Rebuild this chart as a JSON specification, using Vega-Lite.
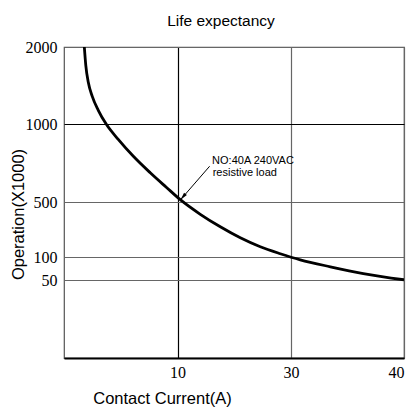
{
  "$schema": "https://vega.github.io/schema/vega-lite/v6.json",
  "width": 340,
  "height": 311,
  "autosize": {"type": "none"},
  "padding": {"left": 64, "top": 47, "right": 4, "bottom": 51},
  "background": "white",
  "config": {
    "view": {"stroke": "#555", "strokeWidth": 1.2},
    "axis": {"labelColor": "#000", "titleColor": "#000", "titleFontWeight": "normal"}
  },
  "title": {
    "text": "Life expectancy",
    "font": "Liberation Sans",
    "fontSize": 15.5,
    "fontWeight": "normal",
    "color": "#000",
    "anchor": "middle",
    "baseline": "middle",
    "offset": 3,
    "dx": -13
  },
  "datasets": {
    "curve": [
      {"current": 1.79, "ops": 2000},
      {"current": 1.92, "ops": 1763},
      {"current": 2.14, "ops": 1543},
      {"current": 2.49, "ops": 1362},
      {"current": 3.02, "ops": 1181},
      {"current": 3.73, "ops": 1000},
      {"current": 4.78, "ops": 903},
      {"current": 6.11, "ops": 794},
      {"current": 7.6, "ops": 688},
      {"current": 9.01, "ops": 595},
      {"current": 10.49, "ops": 515},
      {"current": 14.02, "ops": 410.5},
      {"current": 17.54, "ops": 319.6},
      {"current": 21.07, "ops": 239.6},
      {"current": 24.59, "ops": 174.2},
      {"current": 28.11, "ops": 123.9},
      {"current": 30.82, "ops": 94},
      {"current": 33.48, "ops": 79},
      {"current": 36.4, "ops": 64.4},
      {"current": 40, "ops": 51.1}
    ],
    "notes": [
      {"current": 16.1, "ops": 762, "label": "NO:40A 240VAC"},
      {"current": 16.2, "ops": 689, "label": "resistive load"}
    ],
    "arrow": [
      {"current": 15.66, "ops": 730, "current2": 10.5, "ops2": 513}
    ]
  },
  "layer": [
    {
      "data": {"name": "curve"},
      "mark": {"type": "line", "interpolate": "monotone", "color": "#000", "strokeWidth": 2.8, "clip": true},
      "encoding": {
        "x": {
          "field": "current",
          "type": "quantitative",
          "scale": {"domain": [0, 10, 30, 40], "range": [0, 113.5, 227, 340], "nice": false, "zero": false},
          "axis": {
            "values": [10, 30, 40],
            "format": "d",
            "title": "Contact Current(A)",
            "titleFont": "Liberation Sans",
            "titleFontSize": 16.5,
            "titleX": 98,
            "titleY": 40,
            "titleBaseline": "middle",
            "titleAlign": "center",
            "labelFont": "Liberation Serif",
            "labelFontSize": 16,
            "labelPadding": 6,
            "labelAlign": {"expr": "datum.value == 40 ? 'right' : 'center'"},
            "labelDx": 2,
            "ticks": false,
            "tickSize": 0,
            "domain": true,
            "domainColor": "#000",
            "domainWidth": 2,
            "grid": true,
            "gridColor": {"condition": {"test": "datum.value == 10", "value": "#000"}, "value": "#666"},
            "gridWidth": 1.2,
            "gridOpacity": 1
          }
        },
        "y": {
          "field": "ops",
          "type": "quantitative",
          "scale": {"domain": [0, 50, 100, 500, 1000, 2000], "range": [311, 233.3, 210, 155, 77.3, 0], "nice": false, "zero": false},
          "axis": {
            "values": [50, 100, 500, 1000, 2000],
            "format": "d",
            "title": "Operation(X1000)",
            "titleFont": "Liberation Sans",
            "titleFontSize": 16.5,
            "titleAngle": -90,
            "titleX": -46,
            "titleY": 167,
            "titleBaseline": "middle",
            "titleAlign": "center",
            "labelFont": "Liberation Serif",
            "labelFontSize": 16,
            "labelPadding": 7,
            "labelBaseline": "middle",
            "ticks": false,
            "tickSize": 0,
            "domain": false,
            "grid": true,
            "gridColor": {"condition": {"test": "datum.value == 1000", "value": "#000"}, "value": "#666"},
            "gridWidth": 1.2,
            "gridOpacity": 1
          }
        }
      }
    },
    {
      "data": {"name": "arrow"},
      "mark": {"type": "rule", "color": "#000", "strokeWidth": 1},
      "encoding": {
        "x": {"field": "current", "type": "quantitative"},
        "y": {"field": "ops", "type": "quantitative"},
        "x2": {"field": "current2"},
        "y2": {"field": "ops2"}
      }
    },
    {
      "data": {"name": "arrow"},
      "mark": {"type": "point", "shape": "M0,0 L0.45,2 L-0.45,2 Z", "filled": true, "color": "#000", "size": 64, "opacity": 1, "angle": 220},
      "encoding": {
        "x": {"field": "current2", "type": "quantitative"},
        "y": {"field": "ops2", "type": "quantitative"}
      }
    },
    {
      "data": {"name": "notes"},
      "mark": {"type": "text", "align": "left", "baseline": "middle", "font": "Liberation Sans", "fontSize": 11, "color": "#000"},
      "encoding": {
        "x": {"field": "current", "type": "quantitative"},
        "y": {"field": "ops", "type": "quantitative"},
        "text": {"field": "label"}
      }
    }
  ]
}
